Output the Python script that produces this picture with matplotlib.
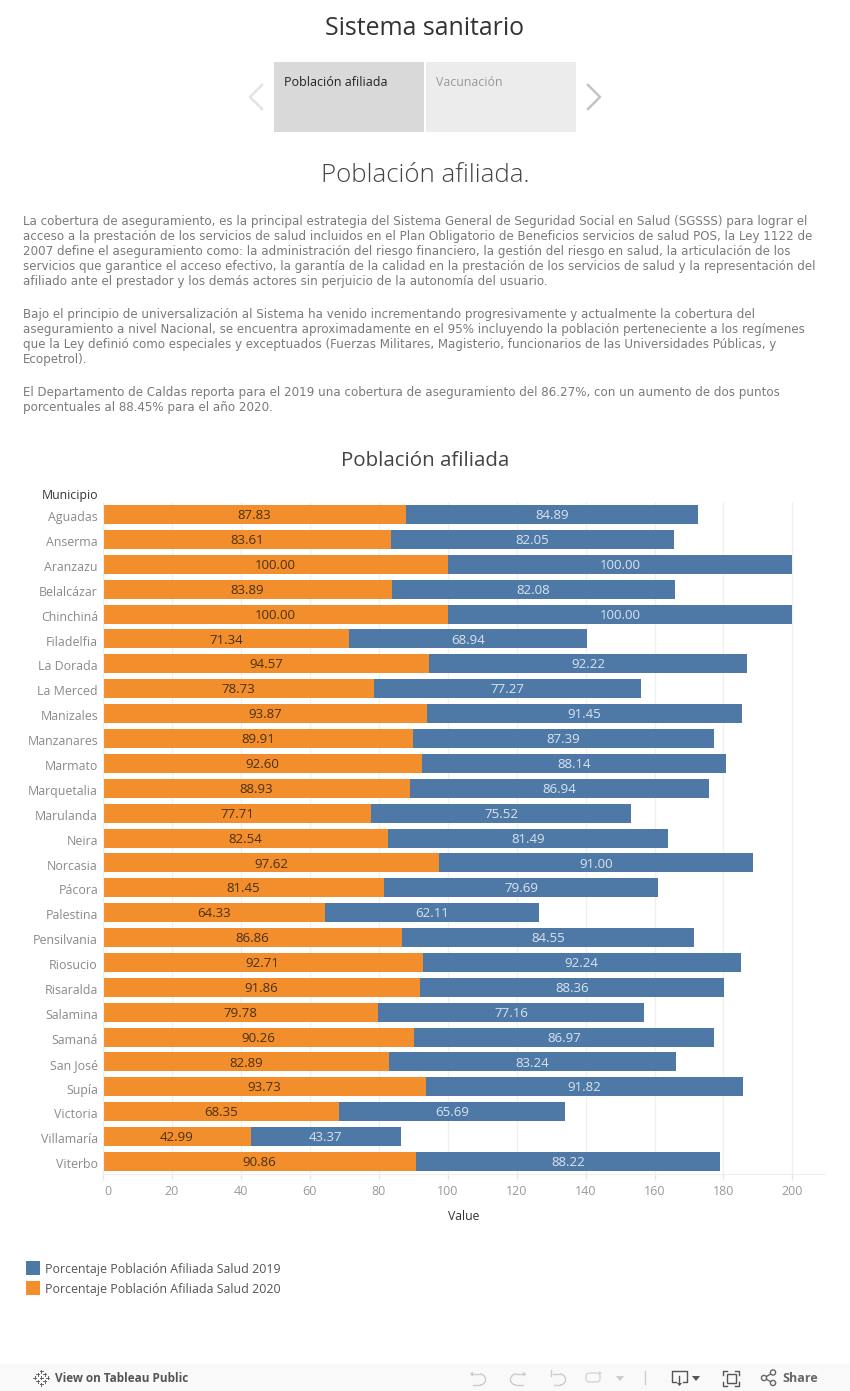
import matplotlib
matplotlib.use("Agg")
import matplotlib.pyplot as plt
from matplotlib.patches import Rectangle, Polygon, Circle, FancyBboxPatch, Arc
from matplotlib.lines import Line2D
from matplotlib.transforms import ScaledTranslation

W, H = 850, 1391

municipios = ["Aguadas", "Anserma", "Aranzazu", "Belalcázar", "Chinchiná", "Filadelfia",
              "La Dorada", "La Merced", "Manizales", "Manzanares", "Marmato", "Marquetalia",
              "Marulanda", "Neira", "Norcasia", "Pácora", "Palestina", "Pensilvania",
              "Riosucio", "Risaralda", "Salamina", "Samaná", "San José", "Supía",
              "Victoria", "Villamaría", "Viterbo"]
salud_2020 = [87.83, 83.61, 100.00, 83.89, 100.00, 71.34, 94.57, 78.73, 93.87, 89.91, 92.60, 88.93,
              77.71, 82.54, 97.62, 81.45, 64.33, 86.86, 92.71, 91.86, 79.78, 90.26, 82.89, 93.73,
              68.35, 42.99, 90.86]
salud_2019 = [84.89, 82.05, 100.00, 82.08, 100.00, 68.94, 92.22, 77.27, 91.45, 87.39, 88.14, 86.94,
              75.52, 81.49, 91.00, 79.69, 62.11, 84.55, 92.24, 88.36, 77.16, 86.97, 83.24, 91.82,
              65.69, 43.37, 88.22]
x_ticks = [0, 20, 40, 60, 80, 100, 120, 140, 160, 180, 200]
legend_labels = ["Porcentaje Población Afiliada Salud 2019", "Porcentaje Población Afiliada Salud 2020"]

parrafos = [
    ("La cobertura de aseguramiento, es la principal estrategia del Sistema General de Seguridad Social en Salud (SGSSS) para lograr el", 221.3),
    ("acceso a la prestación de los servicios de salud incluidos en el Plan Obligatorio de Beneficios servicios de salud POS, la Ley 1122 de", 236.3),
    ("2007 define el aseguramiento como: la administración del riesgo financiero, la gestión del riesgo en salud, la articulación de los", 251.3),
    ("servicios que garantice el acceso efectivo, la garantía de la calidad en la prestación de los servicios de salud y la representación del", 266.3),
    ("afiliado ante el prestador y los demás actores sin perjuicio de la autonomía del usuario.", 281.3),
    ("Bajo el principio de universalización al Sistema ha venido incrementando progresivamente y actualmente la cobertura del", 314.3),
    ("aseguramiento a nivel Nacional, se encuentra aproximadamente en el 95% incluyendo la población perteneciente a los regímenes", 329.3),
    ("que la Ley definió como especiales y exceptuados (Fuerzas Militares, Magisterio, funcionarios de las Universidades Públicas, y", 344.3),
    ("Ecopetrol).", 359.3),
    ("El Departamento de Caldas reporta para el 2019 una cobertura de aseguramiento del 86.27%, con un aumento de dos puntos", 392.3),
    ("porcentuales al 88.45% para el año 2020.", 407.3),
]

AZUL = "#4e79a7"
NARANJA = "#f28e2b"
plt.rcParams["font.family"] = ["Open Sans", "DejaVu Sans"]

fig = plt.figure(figsize=(W / 100, H / 100), dpi=100)
fig.patch.set_facecolor("white")
# capa en pixeles para todo lo que no es la grafica
bg = fig.add_axes([0, 0, 1, 1])
bg.set_xlim(0, W)
bg.set_ylim(H, 0)
bg.axis("off")

def txt(x, y, s, size, color="#333333", ha="left", **kw):
    bg.text(x, y, s, fontsize=size, color=color, ha=ha, va="center", **kw)

txt(425, 28.5, "Sistema sanitario", 17.9, "#333333", "center")
bg.add_patch(Rectangle((274, 62), 150, 70, fc="#d9d9d9", ec="none"))
bg.add_patch(Rectangle((426, 62), 150, 70, fc="#ececec", ec="none"))
txt(284, 82, "Población afiliada", 9.0, "#222222")
txt(436, 82, "Vacunación", 8.9, "#999999")
bg.add_line(Line2D([262, 250, 262], [85, 97, 109], color="#e3e3e3", lw=1.8))
bg.add_line(Line2D([588, 600, 588], [85, 97, 109], color="#c4c4c4", lw=1.8))
txt(425, 175, "Población afiliada.", 18.6, "#444444", "center", fontweight="light")

for linea, y in parrafos:
    txt(23, y, linea, 8.57, "#7a7a7a", family="DejaVu Sans")

txt(425, 461.5, "Población afiliada", 14.75, "#444444", "center")

# grafica principal
x0, x1, y_top, y_bot = 103, 825, 501.5, 1174
escala = 3.447
ax = fig.add_axes([x0 / W, 1 - y_bot / H, (x1 - x0) / W, (y_bot - y_top) / H])
ax.set_xlim(0, (x1 - x0) / escala)
fila = 24.885
ax.set_ylim((y_bot - 514.5) / fila, (y_top - 514.5) / fila)
pos = list(range(len(municipios)))
ax.barh(pos, salud_2020, height=19 / fila, color=NARANJA, zorder=2)
ax.barh(pos, salud_2019, left=salud_2020, height=19 / fila, color=AZUL, zorder=2)
baja = ScaledTranslation(0, -0.8 / 72, fig.dpi_scale_trans)
for i in pos:
    ax.text(salud_2020[i] / 2, i, f"{salud_2020[i]:.2f}", ha="center", va="center",
            fontsize=9.5, color="#4a3015", zorder=3, transform=ax.transData + baja)
    ax.text(salud_2020[i] + salud_2019[i] / 2, i, f"{salud_2019[i]:.2f}", ha="center", va="center",
            fontsize=9.5, color="#dbe4ee", zorder=3, transform=ax.transData + baja)
ax.set_yticks(pos)
ax.set_yticklabels(municipios, fontsize=8.9, color="#8a8a8a")
ax.set_xticks(x_ticks)
ax.set_xticklabels(x_ticks, fontsize=9, color="#999999")
ax.tick_params(axis="y", length=0, pad=3.6)
ax.tick_params(axis="x", length=4, color="#e8e8e8", width=1, pad=4)
ax.grid(axis="x", color="#f0f0f0", lw=1, zorder=0)
for s in ["top", "right"]:
    ax.spines[s].set_visible(False)
ax.spines["left"].set_color("#eeeeee")
ax.spines["bottom"].set_color("#eeeeee")
for lab in ax.get_yticklabels():
    lab.set_transform(lab.get_transform() + ScaledTranslation(0, -1.2 / 72, fig.dpi_scale_trans))
# el 0 va corrido para no salirse del eje
cero = ax.get_xticklabels()[0]
cero.set_ha("left")
cero.set_transform(cero.get_transform() + ScaledTranslation(1.2 / 72, 0, fig.dpi_scale_trans))

txt(98, 495, "Municipio", 8.8, "#333333", "right")
txt(464, 1217, "Value", 8.8, "#333333", "center")

# leyenda
for col, lab, y in zip([AZUL, NARANJA], legend_labels, [1268, 1288]):
    bg.add_patch(Rectangle((26, y - 7), 14, 14, fc=col, ec="none"))
    txt(45, y + 1, lab, 8.95, "#555555")

# barra de tableau
bg.add_patch(Rectangle((0, 1364), W, 27, fc="#f9f9f9", ec="none"))
txt(55, 1378, "View on Tableau Public", 8.5, "#555555", fontweight="bold")
txt(782, 1378, "Share", 9, "#666666", fontweight="bold")
for dx, dy, r in [(0, -6.5, 1.5), (0, 6.5, 1.5), (-6.5, 0, 1.5), (6.5, 0, 1.5),
                  (-3.5, -3.5, 1.5), (3.5, -3.5, 1.5), (-3.5, 3.5, 1.5), (3.5, 3.5, 1.5), (0, 0, 1.5)]:
    bg.add_line(Line2D([41.5 + dx - r, 41.5 + dx + r], [1377.5 + dy] * 2, color="#666666", lw=0.7))
    bg.add_line(Line2D([41.5 + dx] * 2, [1377.5 + dy - r, 1377.5 + dy + r], color="#666666", lw=0.7))
# deshacer / rehacer
gris = "#cccccc"
bg.add_line(Line2D([471, 480], [1374, 1374], color=gris, lw=1))
bg.add_patch(Arc((480, 1379.5), 11, 11, theta1=-90, theta2=90, ec=gris, lw=1))
bg.add_line(Line2D([480, 473], [1385, 1385], color=gris, lw=1))
bg.add_patch(Polygon([[470, 1374], [473, 1371.5], [473, 1376.5]], fc=gris, ec="none"))
bg.add_line(Line2D([525, 516], [1374, 1374], color=gris, lw=1))
bg.add_patch(Arc((516, 1379.5), 11, 11, theta1=90, theta2=270, ec=gris, lw=1))
bg.add_line(Line2D([516, 523], [1385, 1385], color=gris, lw=1))
bg.add_patch(Polygon([[526, 1374], [523, 1371.5], [523, 1376.5]], fc=gris, ec="none"))
bg.add_line(Line2D([551, 551], [1370, 1376], color=gris, lw=1))
bg.add_line(Line2D([553, 560], [1374, 1374], color=gris, lw=1))
bg.add_patch(Arc((560, 1379.5), 11, 11, theta1=-90, theta2=90, ec=gris, lw=1))
bg.add_line(Line2D([560, 554], [1385, 1385], color=gris, lw=1))
bg.add_patch(FancyBboxPatch((586, 1373), 14, 9, boxstyle="round,pad=0,rounding_size=3.5", fc="none", ec="#d5d5d5", lw=1))
bg.add_patch(Polygon([[602, 1373], [599, 1371], [599, 1375]], fc="#d5d5d5", ec="none"))
bg.add_patch(Polygon([[616, 1376], [624, 1376], [620, 1381]], fc="#cccccc", ec="none"))
bg.add_line(Line2D([645.5, 645.5], [1371, 1384], color="#cccccc", lw=1))
# descarga, pantalla completa, compartir
bg.add_line(Line2D([676, 672, 672, 687, 687, 683], [1382, 1382, 1370.5, 1370.5, 1382, 1382], color="#555555", lw=1))
bg.add_line(Line2D([679.5, 679.5], [1376, 1384], color="#555555", lw=1))
bg.add_patch(Polygon([[677, 1383], [682, 1383], [679.5, 1386]], fc="#555555", ec="none"))
bg.add_patch(Polygon([[692, 1376], [700, 1376], [696, 1381]], fc="#555555", ec="none"))
bg.add_patch(Rectangle((727, 1374), 9, 9, fc="none", ec="#555555", lw=1))
for px, py, a, b in [(723, 1370.5, 1, 1), (739, 1370.5, -1, 1), (723, 1385.5, 1, -1), (739, 1385.5, -1, -1)]:
    bg.add_line(Line2D([px + 4 * a, px, px], [py, py, py + 4 * b], color="#555555", lw=1))
bg.add_line(Line2D([773, 764, 773], [1372.5, 1378, 1383], color="#666666", lw=1))
for cx, cy in [(773, 1372.5), (764, 1378), (773, 1383)]:
    bg.add_patch(Circle((cx, cy), 2.6, fc="#f9f9f9", ec="#666666", lw=1, zorder=3))

fig.savefig("out.png", dpi=100)
